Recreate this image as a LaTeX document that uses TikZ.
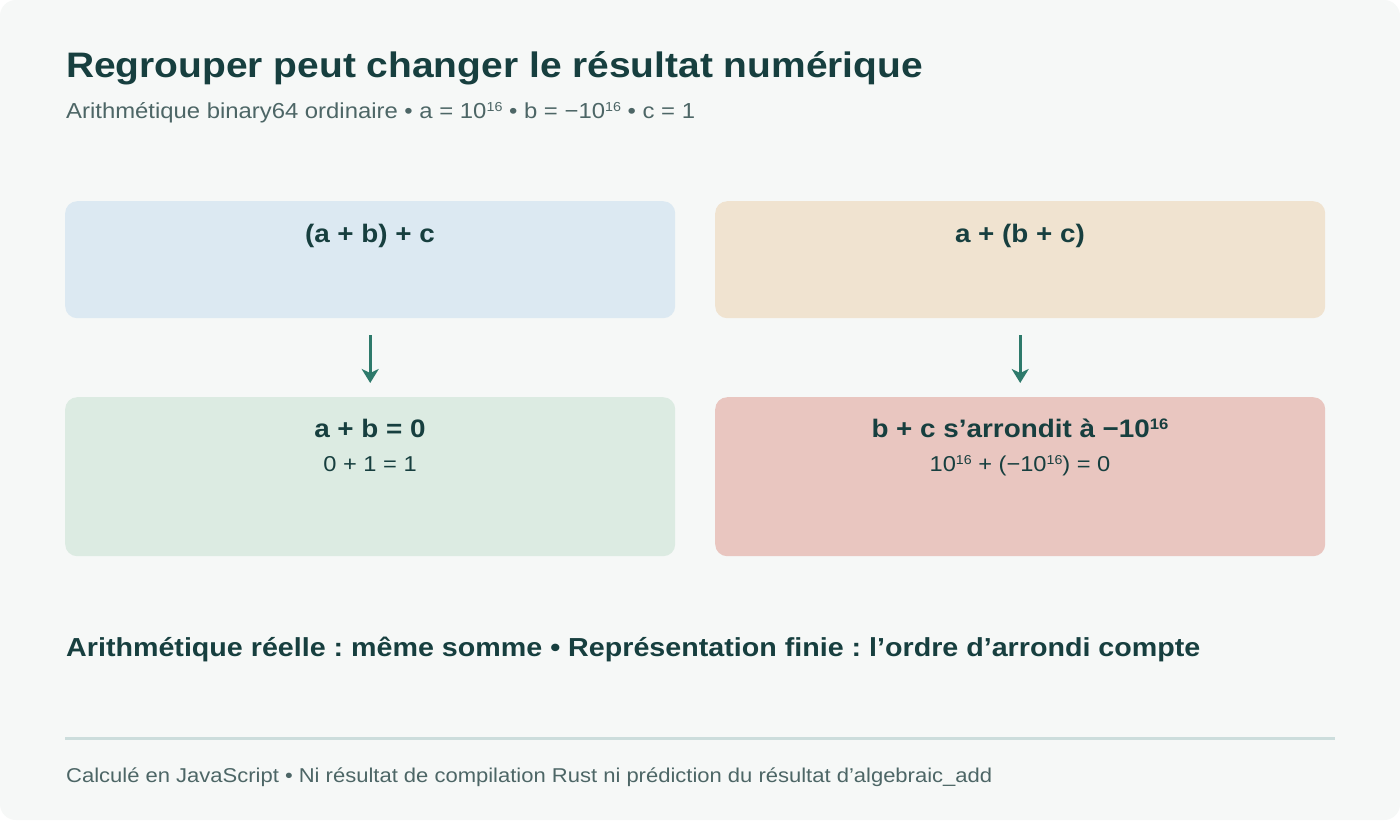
\documentclass[tikz,border=0pt]{standalone}
\usepackage{fontspec}
\setmainfont[FakeStretch=1.1]{Liberation Sans}
\usetikzlibrary{arrows.meta,positioning}
\definecolor{bg}{HTML}{F6F8F7}
\definecolor{ink}{HTML}{173F3F}
\definecolor{sub}{HTML}{4D6666}
\definecolor{bblue}{HTML}{DCE9F2}
\definecolor{btan}{HTML}{F0E3D0}
\definecolor{bgreen}{HTML}{DCEBE2}
\definecolor{bred}{HTML}{E9C6C0}
\definecolor{arrc}{HTML}{2E7A6B}
\definecolor{rule}{HTML}{CCDDDC}
\tikzset{
  card/.style={anchor=north west, minimum width=610pt, inner sep=0pt, rounded corners=12pt, draw=none},
  cardtitle/.style={anchor=base, inner sep=0pt, text=ink, font=\fontsize{25.3}{30}\selectfont\bfseries},
  cardsub/.style={anchor=base, inner sep=0pt, text=ink, font=\fontsize{21.5}{25}\selectfont},
  flow/.style={draw=arrc, line width=3pt, -{Stealth[length=14pt,width=17pt,inset=4pt]}, shorten <=17pt, shorten >=14pt},
}
\newcommand{\sx}[1]{\raisebox{0.3em}{\scalebox{0.6}{#1}}}
\frenchspacing
\begin{document}
\begin{tikzpicture}[x=1pt,y=-1pt]
\useasboundingbox (0,0) rectangle (1400,820);
\fill[white] (0,0) rectangle (1400,820);
\fill[bg, rounded corners=16pt] (0,0) rectangle (1400,820);
\node[anchor=base west, inner sep=0pt, text=ink, font=\fontsize{35.4}{42}\selectfont\bfseries] (title) at (66,77) {Regrouper peut changer le résultat numérique};
\node[anchor=base west, inner sep=0pt, text=sub, font=\fontsize{21.7}{26}\selectfont] (subtitle) at (66,118) {Arithmétique binary64 ordinaire • a = 10\sx{16} • b = −10\sx{16} • c = 1};
\node[card, fill=bblue, minimum height=117pt] (tl) at (65,201) {};
\node[card, fill=btan, minimum height=117pt] (tr) at (715,201) {};
\node[card, fill=bgreen, minimum height=159pt] (bl) at (65,397) {};
\node[card, fill=bred, minimum height=159pt] (br) at (715,397) {};
\node[cardtitle] (tlt) at (370,242) {(a + b) + c};
\node[cardtitle] (trt) at (1020,242) {a + (b + c)};
\node[cardtitle] (blt) at (370,437) {a + b = 0};
\node[cardsub] (bls) at (370,471) {0 + 1 = 1};
\node[cardtitle] (brt) at (1020,437) {b + c s’arrondit à −10\sx{16}};
\node[cardsub] (brs) at (1020,471) {10\sx{16} + (−10\sx{16}) = 0};
\draw[flow] (tl.south) -- (bl.north);
\draw[flow] (tr.south) -- (br.north);
\node[anchor=base west, inner sep=0pt, text=ink, font=\fontsize{26.05}{31}\selectfont\bfseries] (concl) at (66,656) {Arithmétique réelle : même somme • Représentation finie : l’ordre d’arrondi compte};
\coordinate (r1) at (65,738);
\coordinate (r2) at (1335,738);
\draw[rule, line width=3pt] (r1) -- (r2);
\node[anchor=base west, inner sep=0pt, text=sub, font=\fontsize{20}{24}\selectfont] (foot) at (66,782) {Calculé en JavaScript • Ni résultat de compilation Rust ni prédiction du résultat d’algebraic\_add};
\end{tikzpicture}
\end{document}
